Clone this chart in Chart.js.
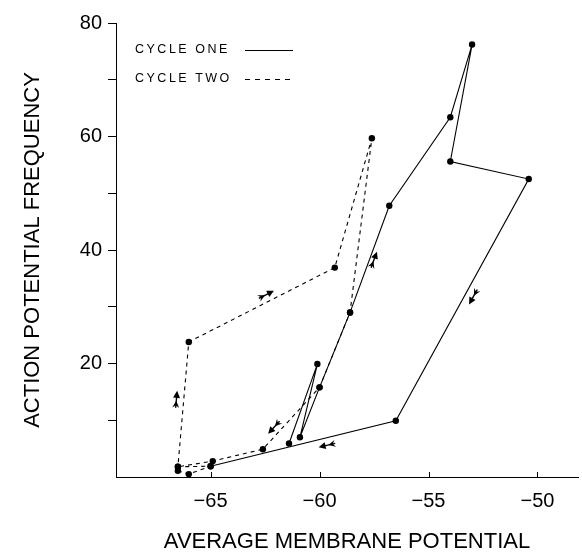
<!DOCTYPE html>
<html>
<head>
<meta charset="utf-8">
<script src="https://cdn.jsdelivr.net/npm/chart.js@4.4.0/dist/chart.umd.min.js"></script>
<style>
  html, body { margin: 0; padding: 0; background: #fff; }
  #wrap { width: 582px; height: 553px; }
</style>
</head>
<body>
<div id="wrap"><canvas id="scatter"></canvas></div>
<script>
// values
const cycleOneX = [-61.4, -60.1, -60.9, -60.0, -58.6, -56.8, -54.0, -53.0, -54.0, -50.4, -56.5, -65.0];
const cycleOneY = [5.9, 19.9, 7.0, 15.8, 29.0, 47.8, 63.4, 76.2, 55.6, 52.5, 9.9, 1.9];
const cycleTwoX = [-66.5, -66.0, -65.0, -66.5, -66.0, -59.3, -57.6, -58.6, -60.0, -62.6, -64.9, -66.5];
const cycleTwoY = [1.1, 0.5, 1.9, 1.8, 23.8, 36.9, 59.7, 29.0, 15.8, 4.9, 2.8, 1.8];

const xTickValues = [-65, -60, -55, -50];
const yTickValues = [10, 20, 30, 40, 50, 60, 70, 80];
const yTickLabels = [20, 40, 60, 80];

// direction arrows: where they sit and which segment they follow
const arrowMarks = [
  { at: [-66.57, 13.6], from: [-66.5, 1.8], to: [-66.0, 23.8] },
  { at: [-62.46, 32.1], from: [-66.0, 23.8], to: [-59.3, 36.9] },
  { at: [-57.51, 38.2], from: [-58.6, 29.0], to: [-56.8, 47.8] },
  { at: [-52.94, 31.8], from: [-50.4, 52.5], to: [-56.5, 9.9] },
  { at: [-59.64, 5.6], from: [-56.5, 9.9], to: [-65.0, 1.9] },
  { at: [-62.08, 8.8], from: [-60.0, 15.8], to: [-62.6, 4.9] },
];

const FONT = "'Liberation Sans', Arial, Helvetica, sans-serif";
Chart.defaults.font.family = FONT;
Chart.defaults.color = "#000";

const toPoints = (xs, ys) => xs.map((x, i) => ({ x: x, y: ys[i] }));

function drawArrow(ctx, cx, cy, ang) {
  ctx.save();
  ctx.translate(cx, cy);
  ctx.rotate(ang);
  ctx.strokeStyle = "#000";
  ctx.fillStyle = "#000";
  ctx.lineWidth = 1.4;
  ctx.beginPath();
  ctx.moveTo(-8, 0);
  ctx.lineTo(5, 0);
  ctx.stroke();
  ctx.beginPath();
  ctx.moveTo(9, 0);
  ctx.lineTo(2, -3.5);
  ctx.lineTo(2, 3.5);
  ctx.closePath();
  ctx.fill();
  ctx.beginPath();
  ctx.moveTo(-1, 0);
  ctx.lineTo(-8, -3.5);
  ctx.lineTo(-5.5, 0);
  ctx.lineTo(-8, 3.5);
  ctx.closePath();
  ctx.fill();
  ctx.restore();
}

const decor = {
  id: "decor",
  afterDraw(chart) {
    const ctx = chart.ctx;
    const xs = chart.scales.x;
    const ys = chart.scales.y;
    const bottom = chart.chartArea.bottom;

    // x ticks point inward
    ctx.save();
    ctx.strokeStyle = "#000";
    ctx.lineWidth = 1;
    xTickValues.forEach((v) => {
      const px = Math.round(xs.getPixelForValue(v)) + 0.5;
      ctx.beginPath();
      ctx.moveTo(px, bottom);
      ctx.lineTo(px, bottom - 5);
      ctx.stroke();
    });
    ctx.restore();

    arrowMarks.forEach((a) => {
      const x1 = xs.getPixelForValue(a.from[0]), y1 = ys.getPixelForValue(a.from[1]);
      const x2 = xs.getPixelForValue(a.to[0]), y2 = ys.getPixelForValue(a.to[1]);
      drawArrow(ctx, xs.getPixelForValue(a.at[0]), ys.getPixelForValue(a.at[1]), Math.atan2(y2 - y1, x2 - x1));
    });

    // legend
    ctx.save();
    ctx.fillStyle = "#000";
    ctx.strokeStyle = "#000";
    ctx.font = "12.5px " + FONT;
    ctx.letterSpacing = "2.5px";
    ctx.textBaseline = "middle";
    ctx.fillText("CYCLE ONE", 135, 50);
    ctx.fillText("CYCLE TWO", 135, 79);
    ctx.lineWidth = 1;
    ctx.beginPath();
    ctx.moveTo(245, 50.5);
    ctx.lineTo(293, 50.5);
    ctx.stroke();
    ctx.setLineDash([5, 5]);
    ctx.beginPath();
    ctx.moveTo(245, 79.5);
    ctx.lineTo(293, 79.5);
    ctx.stroke();
    ctx.restore();
  },
};

new Chart(document.getElementById("scatter"), {
  type: "scatter",
  data: {
    datasets: [
      {
        label: "CYCLE ONE",
        data: toPoints(cycleOneX, cycleOneY),
        showLine: true,
        borderColor: "#000",
        borderWidth: 1.1,
        backgroundColor: "#000",
        pointRadius: 3.2,
        pointBorderWidth: 0,
      },
      {
        label: "CYCLE TWO",
        data: toPoints(cycleTwoX, cycleTwoY),
        showLine: true,
        borderColor: "#000",
        borderWidth: 1.1,
        borderDash: [4, 4],
        backgroundColor: "#000",
        pointRadius: 3.2,
        pointBorderWidth: 0,
      },
    ],
  },
  options: {
    responsive: true,
    maintainAspectRatio: false,
    animation: false,
    layout: { padding: { top: 23, right: 2, left: 0, bottom: 0 } },
    plugins: {
      legend: { display: false },
      tooltip: { enabled: false },
    },
    scales: {
      x: {
        type: "linear",
        min: -69.34,
        max: -48.14,
        afterBuildTicks: (s) => { s.ticks = xTickValues.map((v) => ({ value: v })); },
        afterFit: (s) => { s.height = 76; },
        grid: { display: true, drawOnChartArea: false, drawTicks: false },
        border: { color: "#000", width: 1 },
        ticks: {
          color: "#000",
          padding: 12,
          font: { size: 20 },
          callback: (v) => "\u2212" + Math.abs(v),
        },
        title: {
          display: true,
          text: "AVERAGE MEMBRANE POTENTIAL",
          color: "#000",
          font: { size: 22, lineHeight: 1 },
          padding: 0,
        },
      },
      y: {
        min: 0,
        max: 80,
        afterBuildTicks: (s) => { s.ticks = yTickValues.map((v) => ({ value: v })); },
        afterFit: (s) => { s.width = 116; },
        grid: { drawOnChartArea: false, drawTicks: true, tickLength: 8, color: "#000" },
        border: { color: "#000", width: 1 },
        ticks: {
          color: "#000",
          padding: 6,
          font: { size: 20 },
          callback: (v) => (yTickLabels.includes(v) ? String(v) : ""),
        },
        title: {
          display: true,
          text: "ACTION POTENTIAL FREQUENCY",
          color: "#000",
          font: { size: 22, lineHeight: 1 },
          padding: { top: 22, bottom: 0 },
        },
      },
    },
  },
  plugins: [decor],
});
</script>
</body>
</html>
